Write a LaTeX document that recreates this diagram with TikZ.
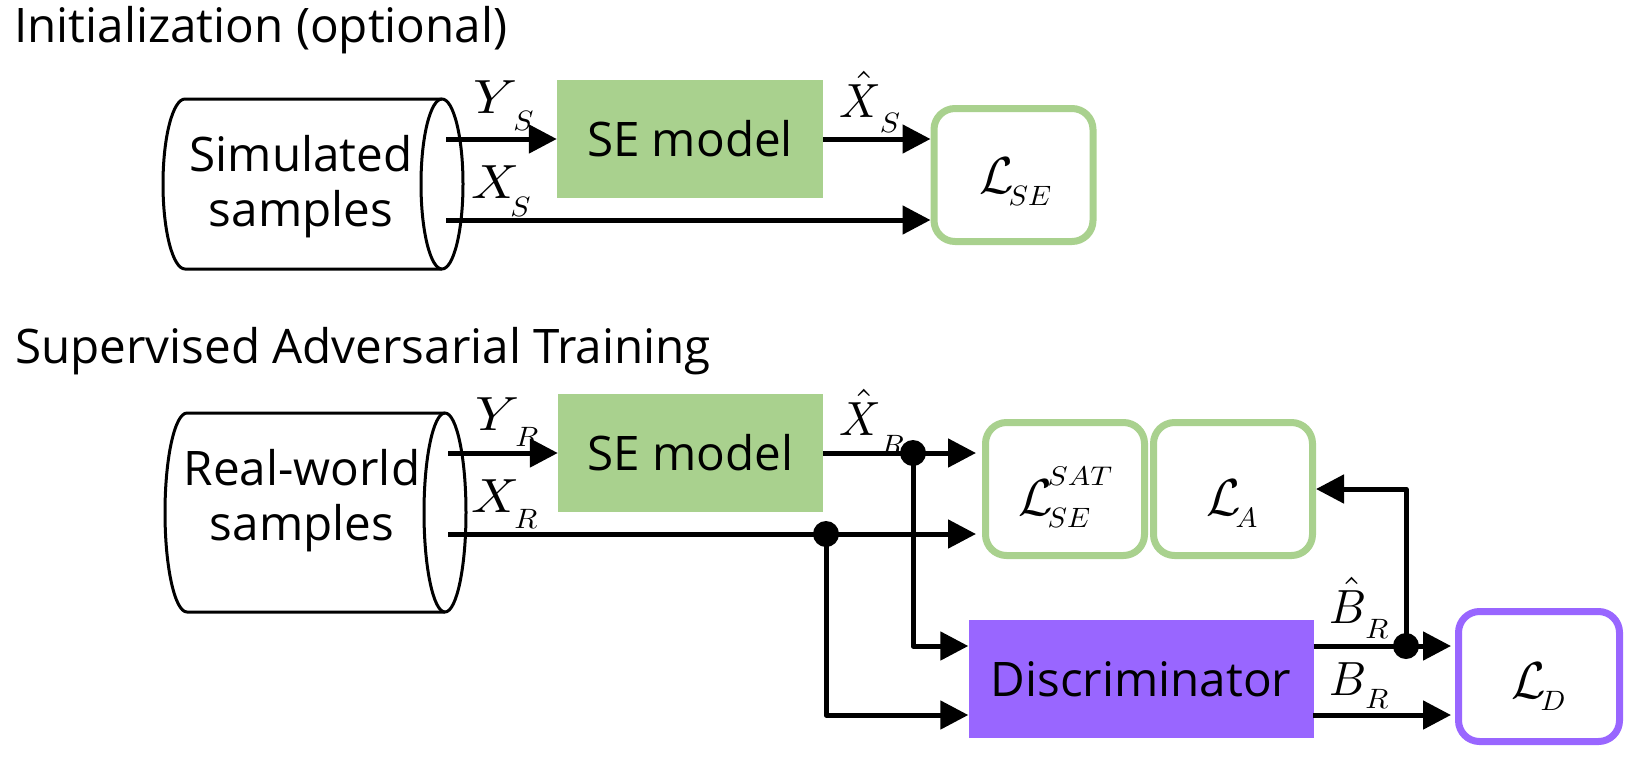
\RequirePackage{fix-cm}
\documentclass[tikz,border=0pt]{standalone}
\usepackage{graphicx}
\usepackage{fontspec}
\setsansfont{Open Sans}
\usetikzlibrary{arrows.meta}
\definecolor{segreen}{HTML}{A9D18E}
\definecolor{dpurple}{HTML}{9966FF}
\newcommand\txtsize{\fontsize{47.6}{55}\selectfont}
% #1 scale of main symbol, #2 main, #3 kern, #4 subscript, #5 drop
\newcommand\xylab[5]{\scalebox{#1}[4.8]{$#2$}\kern#3pt\raisebox{-#5pt}{\scalebox{3.0}[2.8]{$#4$}}}
% loss: #1 subscript, #2 superscript
\newcommand\losslab[2]{\scalebox{5.0}[5.2]{$\mathcal{L}$}\kern-5pt\raisebox{-12pt}{\rlap{\scalebox{2.9}[2.8]{$#1$}}}\raisebox{30pt}{\scalebox{3.0}[2.7]{$#2$}}}
\begin{document}
\begin{tikzpicture}[x=1pt,y=-1pt,line join=round,
  arr/.style={line width=5pt,-{Triangle[length=28pt,width=28pt]}},
  ln/.style={line width=5pt},
  cyl/.style={line width=3pt},
  tlabel/.style={anchor=base west,inner sep=0,font=\txtsize\sffamily},
  cyltext/.style={align=center,inner sep=0,font=\txtsize\sffamily},
  xy/.style={anchor=base west,inner sep=0},
  sebox/.style={fill=segreen,draw=none,minimum height=118pt,inner sep=0,font=\txtsize\sffamily},
  discbox/.style={fill=dpurple,draw=none,minimum height=118pt,inner sep=0,font=\txtsize\sffamily},
  lossg/.style={draw=segreen,line width=7pt,rounded corners=21pt,fill=white,inner sep=0,minimum width=159pt,minimum height=133pt},
  lossp/.style={draw=dpurple,line width=7pt,rounded corners=21pt,fill=white,inner sep=0,minimum width=161pt,minimum height=130pt},
  jdot/.style={circle,fill=black,minimum size=26pt,inner sep=0}
]
\useasboundingbox (0,0) rectangle (1627,756);

% titles
\node[tlabel] (t1) at (14,42) {Initialization (optional)};
\node[tlabel] (t2) at (15,363) {Supervised Adversarial Training};

% ---------- section 1 ----------
\draw[cyl] (442,99) -- (185,99) arc[start angle=-90,end angle=-270,x radius=22,y radius=85] -- (442,269);
\draw[cyl] (442,184) ellipse[x radius=21,y radius=85];
\node[cyltext] (sim) at (301,187) {Simulated\\samples};

\node[sebox,minimum width=266pt] (se1) at (690,139) {SE model};
\node[lossg] (lse) at (1013.5,175) {};
\node[xy] (lset) at (979,193) {\losslab{SE}{}};

\coordinate (ys0) at (446,139);
\coordinate (xs0) at (446,220);
\draw[arr] (ys0) -- (se1.west);
\draw[arr] (se1.east) -- (se1.east -| lse.west);
\draw[arr] (xs0) -- (xs0 -| lse.west);

\node[xy] (lys) at (473,113) {\xylab{5.5}{Y}{-4}{S}{17}};
\node[xy] (lxs) at (471,198) {\xylab{5.3}{X}{-9}{S}{18}};
\node[xy] (lxhs) at (839,117) {\xylab{4.6}{\hat{X}}{-1}{S}{15}};

% ---------- section 2 ----------
\draw[cyl] (445,413) -- (187,413) arc[start angle=-90,end angle=-270,x radius=22,y radius=99.5] -- (445,612);
\draw[cyl] (445,512.5) ellipse[x radius=21,y radius=99.5];
\node[cyltext] (real) at (302,501) {Real-world\\samples};

\node[sebox,minimum width=265pt] (se2) at (690.5,453) {SE model};
\node[lossg] (lsat) at (1065,489) {};
\node[xy] (lsatt) at (1018,515) {\losslab{SE}{SAT}};
\node[lossg] (la) at (1233,489) {};
\node[xy] (lat) at (1206,515) {\losslab{A}{}};
\node[discbox,minimum width=345pt] (disc) at (1141,679) {Discriminator};
\node[lossp] (ld) at (1539,676.5) {};
\node[xy] (ldt) at (1511,698) {\losslab{D}{}};

\coordinate (yr0) at (448,453);
\coordinate (xr0) at (448,534);
\coordinate (br0) at (1313,715);
\node[jdot] (d1) at (913,453) {};
\node[jdot] (d2) at (826,534) {};
\node[jdot] (d3) at (1406,646) {};

\draw[arr] (yr0) -- (se2.west);
\draw[ln] (se2.east) -- (d1.center);
\draw[arr,shorten >=6pt] (d1.center) -- (d1.center -| lsat.west);
\draw[ln] (xr0) -- (d2.center);
\draw[arr,shorten >=6pt] (d2.center) -- (d2.center -| lsat.west);
\draw[arr] (d1.center) |- (disc.west |- d3.center);
\draw[arr] (d2.center) |- (disc.west |- br0);
\draw[ln] (disc.east |- d3.center) -- (d3.center);
\draw[arr,shorten >=4pt] (d3.center) -- (d3.center -| ld.west);
\draw[arr] (d3.center) |- (la.east);
\draw[arr,shorten >=4pt] (br0) -- (br0 -| ld.west);

\node[xy] (lyr) at (475,430) {\xylab{5.5}{Y}{-4}{R}{16}};
\node[xy] (lxr) at (471,512) {\xylab{5.3}{X}{-5}{R}{16}};
\node[xy] (lxhr) at (839,435) {\xylab{4.6}{\hat{X}}{0}{R}{19}};
\node[xy] (lbh) at (1329,623) {\xylab{4.6}{\hat{B}}{-1}{R}{15}};
\node[xy] (lb) at (1329,695) {\xylab{4.6}{B}{-1}{R}{13}};
\end{tikzpicture}
\end{document}
